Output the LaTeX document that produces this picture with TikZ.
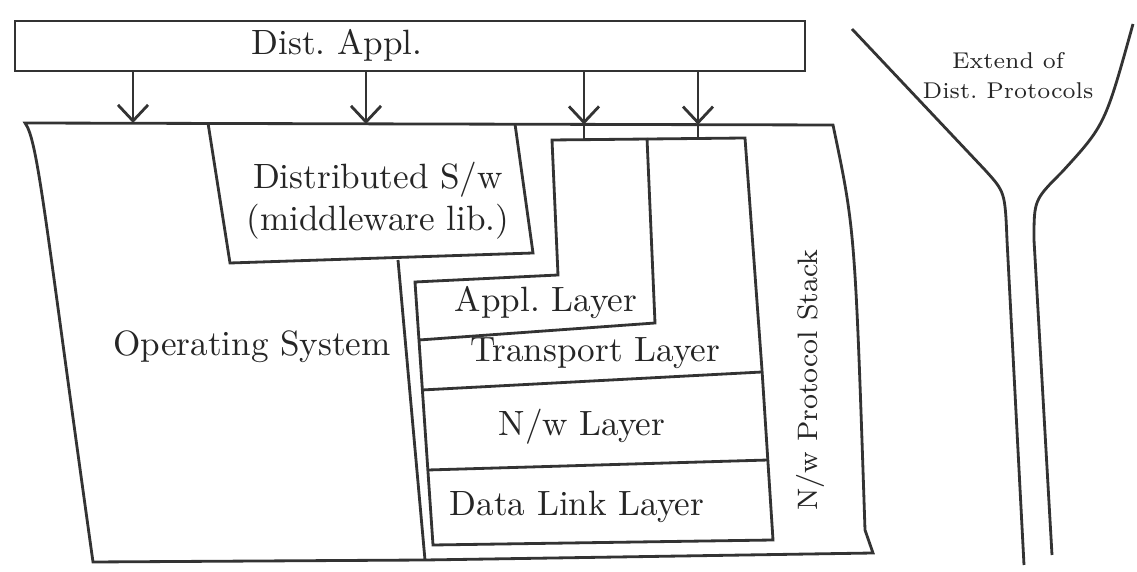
\documentclass[tikz,border=0pt]{standalone}
\usepackage{tikz}
\usetikzlibrary{arrows.meta}
\begin{document}
\begin{tikzpicture}[
        pen/.style={line width=0.8pt, draw=black!80},
        tip/.style={pen, -{Straight Barb[length=1.6mm, width=3mm]}},
        lbl/.style={font=\normalsize, text=black!85, align=center},
        note/.style={font=\footnotesize, text=black!85, align=center}
    ]
            \useasboundingbox (0, 0) rectangle (11.37, -5.72);
            \node[pen, draw, minimum width=7.9cm, minimum height=0.5cm, inner sep=0pt](1) at (4.1, -0.46) {};
            \node[lbl](2) at (3.37, -0.45) {Dist.\ Appl.};
            \draw[pen] (0.25, -1.23) -- (8.33, -1.25) .. controls (8.55, -2.3) .. (8.65, -5.30) -- (8.73, -5.53) -- (4.25, -5.60) -- (0.93, -5.62) .. controls (0.45, -2.2) and (0.38, -1.40) .. cycle;
            \draw[pen] (2.08, -1.23) -- (2.30, -2.63) -- (5.33, -2.53) -- (5.15, -1.24);
            \draw[pen] (3.98, -2.60) -- (4.25, -5.60);
            \draw[pen] (5.52, -1.40) -- (7.45, -1.38) -- (7.62, -3.70) -- (7.73, -5.40) -- (4.33, -5.45) -- (4.15, -2.82) -- (5.58, -2.75) -- cycle;
            \draw[pen] (6.47, -1.38) -- (6.55, -3.23) -- (4.19, -3.40);
            \draw[pen] (4.22, -3.90) -- (7.62, -3.72);
            \draw[pen] (4.28, -4.70) -- (7.68, -4.60);
            \coordinate(a1) at (1.33, -1.23);
            \coordinate(a2) at (3.66, -1.24);
            \coordinate(a3) at (5.84, -1.245);
            \coordinate(b3) at (5.84, -1.395);
            \coordinate(a4) at (6.98, -1.247);
            \coordinate(b4) at (6.98, -1.385);
            \draw[tip] (1.south -| a1) -- (a1);
            \draw[tip] (1.south -| a2) -- (a2);
            \draw[tip] (1.south -| a3) -- (a3);
            \draw[tip] (1.south -| a4) -- (a4);
            \path[pen] (a3) edge (b3) (a4) edge (b4);
            \node[lbl](3) at (3.78, -2.01) {Distributed S/w\\(middleware lib.)};
            \node[lbl](4) at (2.52, -3.47) {Operating System};
            \node[lbl](5) at (5.46, -3.03) {Appl.\ Layer};
            \node[lbl](6) at (5.95, -3.53) {Transport Layer};
            \node[lbl](7) at (5.82, -4.27) {N/w Layer};
            \node[lbl](8) at (5.77, -5.07) {Data Link Layer};
            \node[note, rotate=90](9) at (8.10, -3.80) {N/w Protocol Stack};
            \node[note, font=\fontsize{6.5}{8.5}\selectfont](10) at (10.08, -0.76) {Extend of\\Dist.\ Protocols};
            \draw[pen] (8.52, -0.29) -- (9.85, -1.70) .. controls (10.05, -1.92) .. (10.07, -2.40) -- (10.24, -5.65);
            \draw[pen] (11.33, -0.24) .. controls (11.05, -1.25) .. (10.62, -1.72) .. controls (10.34, -2.0) .. (10.34, -2.40) -- (10.52, -5.55);
        \end{tikzpicture}
\end{document}
